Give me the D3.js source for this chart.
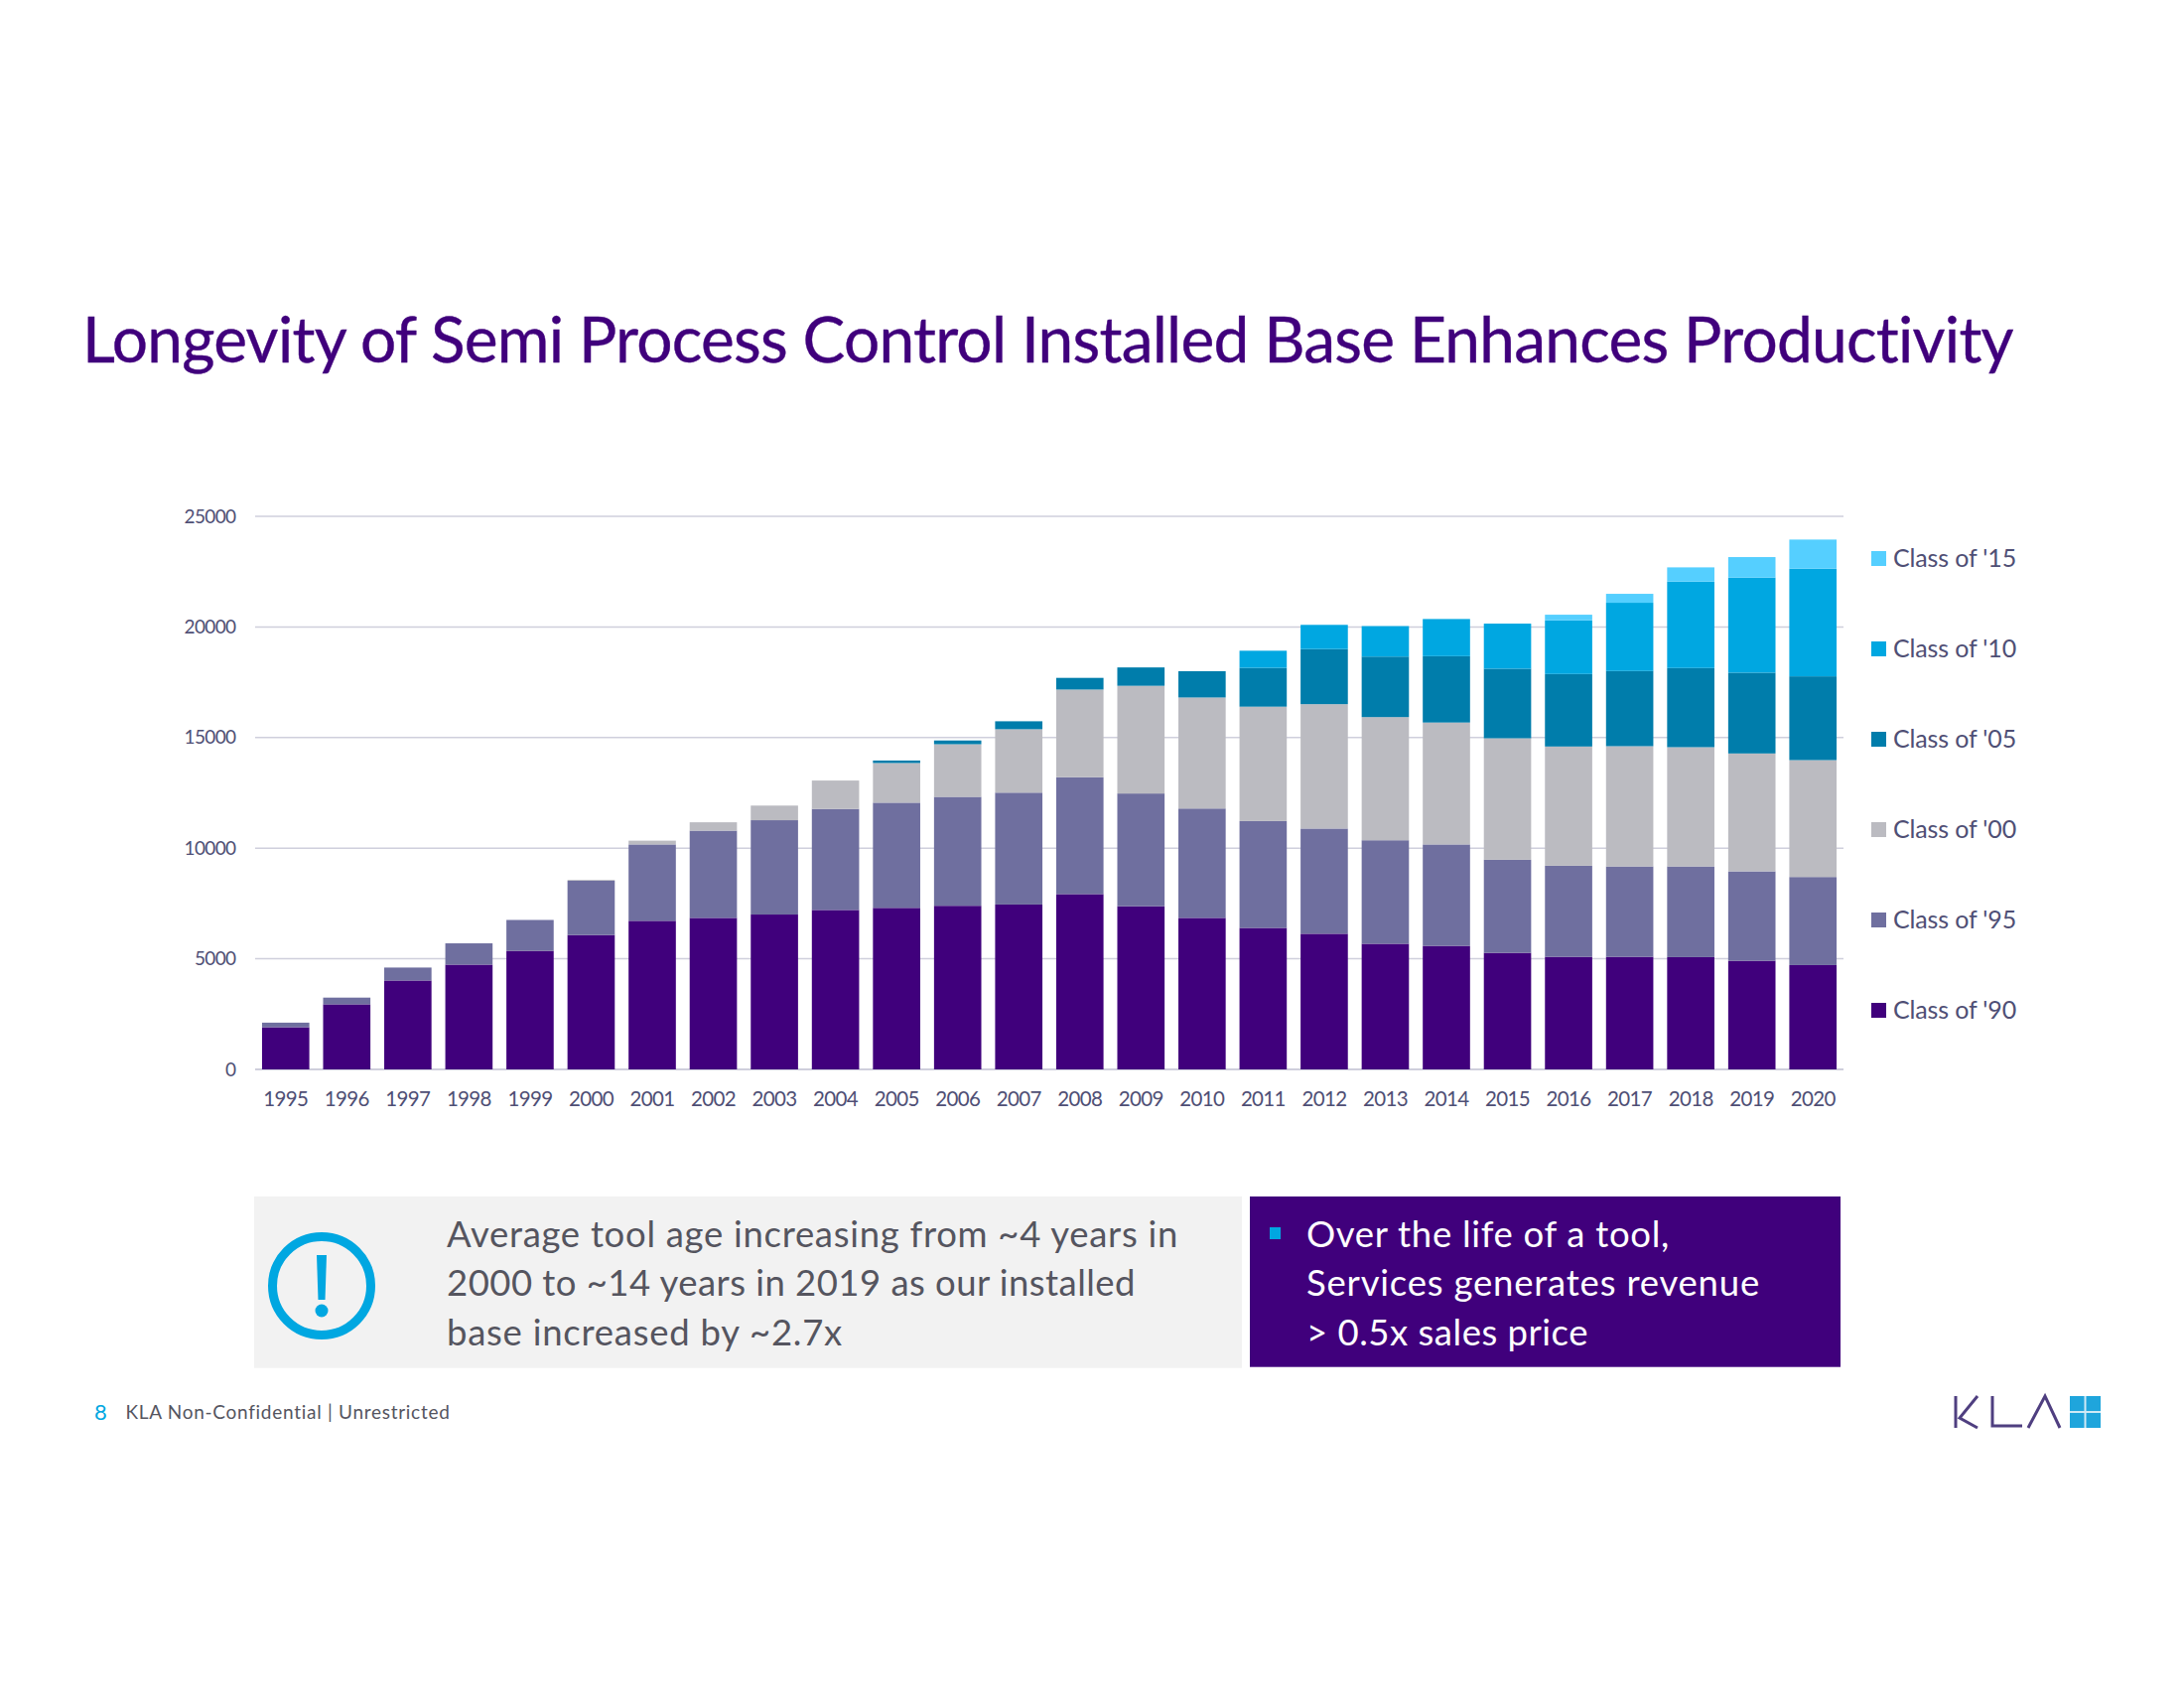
<!DOCTYPE html>
<html><head><meta charset="utf-8">
<script src="https://cdn.jsdelivr.net/npm/d3@7"></script>
<style>html,body{margin:0;background:#fff}svg{display:block}text{font-family:Lato,"Open Sans",sans-serif}</style>
</head><body><svg id="c" width="2200" height="1700"></svg>
<script>
const years=["1995","1996","1997","1998","1999","2000","2001","2002","2003","2004","2005","2006","2007","2008","2009","2010","2011","2012","2013","2014","2015","2016","2017","2018","2019","2020"];
const yTicks=[0,5000,10000,15000,20000,25000];
const seriesNames=["Class of '90","Class of '95","Class of '00","Class of '05","Class of '10","Class of '15"];
const seriesColors=["#40007c","#6f6f9f","#bbbbc1","#007dab","#00a7e1","#55cfff"];
const class90=[1906,2943,4019,4736,5358,6075,6717,6849,7000,7208,7302,7396,7453,7925,7377,6849,6396,6132,5679,5585,5268,5090,5090,5075,4910,4715];
const class95=[207,302,585,962,1397,2453,3453,3943,4264,4566,4755,4925,5057,5283,5095,4943,4830,4755,4679,4585,4207,4116,4086,4101,4042,3983];
const class00=[0,0,0,0,0,38,170,378,661,1283,1792,2377,2867,3962,4868,5019,5170,5623,5567,5509,5493,5389,5434,5389,5329,5282];
const class05=[0,0,0,0,0,0,0,0,0,0,113,170,359,528,830,1189,1755,2490,2735,3000,3145,3278,3398,3578,3652,3788];
const class10=[0,0,0,0,0,0,0,0,0,0,0,0,0,0,0,0,774,1094,1378,1679,2037,2425,3085,3907,4297,4865];
const class15=[0,0,0,0,0,0,0,0,0,0,0,0,0,0,0,0,0,0,0,0,0,255,404,643,928,1317];
const seriesValues=[class90,class95,class00,class05,class10,class15];
const title="Longevity of Semi Process Control Installed Base Enhances Productivity";
const leftLines=["Average tool age increasing from ~4 years in","2000 to ~14 years in 2019 as our installed","base increased by ~2.7x"];
const rightLines=["Over the life of a tool,","Services generates revenue","> 0.5x sales price"];
const leftWidths=[737,694,399];
const rightWidths=[366,457,284];

// Tune letter spacing so a Lato line takes the width the original font gave it.
function fit(sel,width){
  sel.each(function(d,i){
    const w=typeof width==="function"?width(d,i):width;
    const n=this.getComputedTextLength();
    const c=(this.textContent||"").length;
    d3.select(this).attr("letter-spacing",((w-n)/c).toFixed(3));
  });
  return sel;
}

const svg=d3.select("#c");
const x=d3.scaleBand().domain(years).range([257,1857]).paddingInner(0.226).paddingOuter(0.113);
const y=d3.scaleLinear().domain([0,25000]).range([1077,520]);
const rows=years.map((yr,i)=>{const r={year:yr};seriesNames.forEach((n,j)=>r[n]=seriesValues[j][i]);return r;});
const stacked=d3.stack().keys(seriesNames)(rows);

fit(svg.append("text").attr("x",83).attr("y",365).attr("font-size",64).attr("fill","#40007c").attr("stroke","#40007c").attr("stroke-width",0.4).text(title),1946);

svg.append("g").selectAll("line").data(yTicks).join("line").attr("x1",257).attr("x2",1857).attr("y1",d=>y(d)).attr("y2",d=>y(d)).attr("stroke","#cfcfdc").attr("stroke-width",d=>d===0?2:1.5);
fit(svg.append("g").selectAll("text").data(yTicks).join("text").attr("x",237.5).attr("y",d=>y(d)+6.5).attr("text-anchor","end").attr("font-size",19).attr("fill","#4f4f75").text(d=>d),d=>String(d).length*10.4);

svg.append("g").selectAll("g").data(stacked).join("g").attr("fill",(d,i)=>seriesColors[i]).selectAll("rect").data(d=>d).join("rect")
  .attr("x",d=>x(d.data.year)).attr("width",x.bandwidth()).attr("y",d=>y(d[1])).attr("height",d=>y(d[0])-y(d[1]));

fit(svg.append("g").selectAll("text").data(years).join("text").attr("x",d=>x(d)+x.bandwidth()/2).attr("y",1114).attr("text-anchor","middle").attr("font-size",20.5).attr("fill","#4f4f75").text(d=>d),45);

const lg=svg.append("g").selectAll("g").data(seriesNames.slice().reverse()).join("g").attr("transform",(d,i)=>`translate(1885,${562.5+i*91})`);
lg.append("rect").attr("y",-7.5).attr("width",15).attr("height",15).attr("fill",d=>seriesColors[seriesNames.indexOf(d)]);
fit(lg.append("text").attr("x",22).attr("y",8).attr("font-size",25).attr("fill","#4f4f75").text(d=>d),124);

svg.append("rect").attr("x",256).attr("y",1205).attr("width",995).attr("height",172.7).attr("fill","#f2f2f2");
svg.append("rect").attr("x",1259).attr("y",1205).attr("width",595).attr("height",171.7).attr("fill","#40007c");
svg.append("circle").attr("cx",324).attr("cy",1295).attr("r",49.5).attr("fill","none").attr("stroke","#00a7e1").attr("stroke-width",9);
svg.append("path").attr("d","M319,1264 H329 L327.5,1309 H320.5 Z").attr("fill","#00a7e1");
svg.append("circle").attr("cx",324).attr("cy",1320).attr("r",6.5).attr("fill","#00a7e1");
fit(svg.append("g").selectAll("text").data(leftLines).join("text").attr("x",450).attr("y",(d,i)=>1256+i*49.4).attr("font-size",36.5).attr("fill","#55555f").text(d=>d),(d,i)=>leftWidths[i]);
svg.append("rect").attr("x",1279).attr("y",1236).attr("width",11).attr("height",12).attr("fill","#00a7e1");
fit(svg.append("g").selectAll("text").data(rightLines).join("text").attr("x",1316).attr("y",(d,i)=>1256+i*49.4).attr("font-size",36.5).attr("fill","#fff").text(d=>d),(d,i)=>rightWidths[i]);

svg.append("text").attr("x",95).attr("y",1430).attr("font-size",22).attr("fill","#00a7e1").text("8");
fit(svg.append("text").attr("x",126.5).attr("y",1429.3).attr("font-size",19).attr("fill","#55555f").text("KLA Non-Confidential | Unrestricted"),327);

const logo=svg.append("g");
logo.append("path").attr("d","M1970,1406 V1438 M1992,1406 L1974,1428 L1992,1438 M2007,1406 V1436 H2037 M2043,1438 L2060,1406 L2075,1438").attr("fill","none").attr("stroke","#4f3f80").attr("stroke-width",3);
logo.append("rect").attr("x",2085).attr("y",1406).attr("width",31).attr("height",32).attr("fill","#1fa5dc");
logo.append("path").attr("d","M2100.5,1406 V1438 M2085,1422 H2116").attr("stroke","#cfeaf6").attr("stroke-width",2);
</script></body></html>
